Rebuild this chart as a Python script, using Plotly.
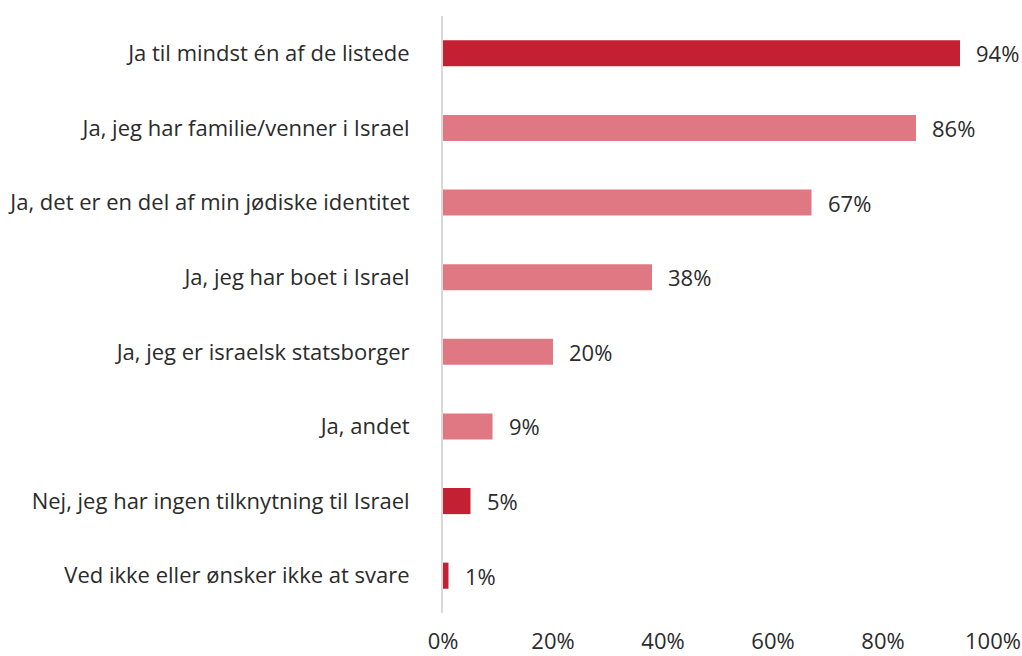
import plotly.graph_objects as go

categories = [
    "Ja til mindst én af de listede",
    "Ja, jeg har familie/venner i Israel",
    "Ja, det er en del af min jødiske identitet",
    "Ja, jeg har boet i Israel",
    "Ja, jeg er israelsk statsborger",
    "Ja, andet",
    "Nej, jeg har ingen tilknytning til Israel",
    "Ved ikke eller ønsker ikke at svare",
]
values = [94, 86, 67, 38, 20, 9, 5, 1]
value_labels = ["94%", "86%", "67%", "38%", "20%", "9%", "5%", "1%"]
bar_colors = ["#C42033", "#DF7883", "#DF7883", "#DF7883", "#DF7883", "#DF7883", "#C42033", "#C42033"]
tick_vals = [0, 20, 40, 60, 80, 100]
tick_text = ["0%", "20%", "40%", "60%", "80%", "100%"]

FONT = "'Open Sans', sans-serif"
TXT = "#2b2b2b"
FS = 22

fig = go.Figure(go.Bar(
    x=values,
    y=categories,
    orientation="h",
    marker=dict(color=bar_colors, line=dict(width=0)),
    width=0.35,
    hoverinfo="x+y",
))

for v, c, t in zip(values, categories, value_labels):
    fig.add_annotation(
        x=v, y=c, text=t, showarrow=False,
        xanchor="left", yanchor="middle", xshift=14,
        font=dict(family=FONT, size=FS, color=TXT),
    )

fig.update_layout(
    width=1022, height=656,
    margin=dict(l=443, r=29, t=16, b=43),
    paper_bgcolor="white", plot_bgcolor="white",
    showlegend=False,
    font=dict(family=FONT, size=FS, color=TXT),
)
fig.update_xaxes(
    range=[0, 100],
    tickvals=tick_vals, ticktext=tick_text,
    showgrid=False, zeroline=False, showline=False,
    ticks="outside", ticklen=9, tickcolor="rgba(0,0,0,0)",
    tickfont=dict(family=FONT, size=FS, color=TXT),
    automargin=False, fixedrange=True,
)
fig.update_yaxes(
    categoryorder="array", categoryarray=categories,
    autorange="reversed",
    showgrid=False, zeroline=False,
    showline=True, linecolor="#d9d9d9", linewidth=2,
    ticks="outside", ticklen=27, tickcolor="rgba(0,0,0,0)",
    tickfont=dict(family=FONT, size=FS, color=TXT),
    automargin=False,
)

# remove the browser's default page margin so the figure fills the window exactly
fig.write_html(
    "out.html",
    config={"displayModeBar": False},
    post_script="document.documentElement.style.margin='0';document.body.style.margin='0';document.body.style.overflow='hidden';",
)
